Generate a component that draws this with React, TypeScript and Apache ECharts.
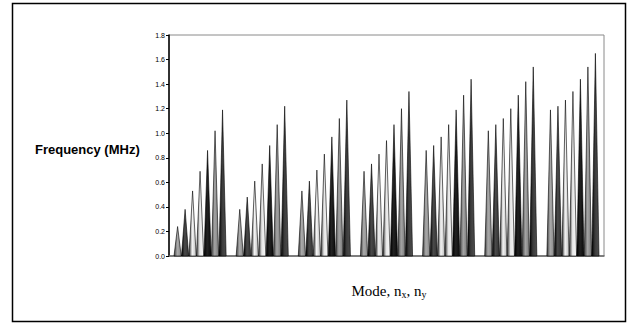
import React, { useEffect, useRef } from "react";
import * as echarts from "echarts";

// Mode groups (n_x = 1..7), each holding n_y = 1..7
const groups = ["1", "2", "3", "4", "5", "6", "7"];
const seriesNames = ["ny=1", "ny=2", "ny=3", "ny=4", "ny=5", "ny=6", "ny=7"];
// frequency (MHz) per group, per n_y
const g1 = [0.24, 0.38, 0.53, 0.69, 0.86, 1.02, 1.19];
const g2 = [0.38, 0.48, 0.61, 0.75, 0.9, 1.07, 1.22];
const g3 = [0.53, 0.61, 0.7, 0.83, 0.97, 1.12, 1.27];
const g4 = [0.69, 0.75, 0.83, 0.94, 1.07, 1.2, 1.34];
const g5 = [0.86, 0.9, 0.97, 1.07, 1.19, 1.31, 1.44];
const g6 = [1.02, 1.07, 1.12, 1.2, 1.31, 1.42, 1.54];
const g7 = [1.19, 1.22, 1.27, 1.34, 1.44, 1.54, 1.65];
const groupValues = [g1, g2, g3, g4, g5, g6, g7];
const yTicks = [0, 0.2, 0.4, 0.6, 0.8, 1.0, 1.2, 1.4, 1.6, 1.8];

const shades = [
  ["#3a3a3a", "#aaaaaa", "#8a8a8a"],
  ["#000000", "#4a4a4a", "#333333"],
  ["#222222", "#f4f4f4", "#bdbdbd"],
  ["#333333", "#e6e6e6", "#f8f8f8"],
  ["#000000", "#222222", "#0a0a0a"],
  ["#444444", "#a4a4a4", "#7a7a7a"],
  ["#000000", "#3c3c3c", "#4e4e4e"],
];

const SPACING = 0.1205;
const HALF = 0.058;

export default function App() {
  const ref = useRef<HTMLDivElement>(null);
  useEffect(() => {
    if (!ref.current) return;
    const chart = echarts.init(ref.current, null, { renderer: "svg" });
    const series: any[] = seriesNames.map((name, s) => ({
      type: "custom",
      name,
      data: groups.map((_, g) => [g + 0.5 + (s - 3) * SPACING, groupValues[g][s]]),
      encode: { x: 0, y: 1 },
      renderItem: (params: any, api: any) => {
        const xc = api.value(0);
        const v = api.value(1);
        const pl = api.coord([xc - HALF, 0]);
        const pr = api.coord([xc + HALF, 0]);
        const pt = api.coord([xc, v]);
        const c = shades[s];
        return {
          type: "polygon",
          shape: { points: [pl, pt, pr] },
          style: {
            fill: new echarts.graphic.LinearGradient(0, 0, 1, 0, [
              { offset: 0, color: c[0] },
              { offset: 0.45, color: c[1] },
              { offset: 1, color: c[2] },
            ]),
            stroke: "rgba(0,0,0,0.75)",
            lineWidth: 0.8,
          },
        };
      },
    }));
    chart.setOption({
      animation: false,
      backgroundColor: "#ffffff",
      grid: { left: 169, right: 34, top: 35, bottom: 69, show: true, borderColor: "#8a8a8a", borderWidth: 1 },
      xAxis: {
        type: "value",
        min: 0,
        max: 7,
        axisLine: { show: true, lineStyle: { color: "#666", width: 1.5 } },
        axisTick: { show: false },
        axisLabel: { show: false },
        splitLine: { show: false },
      },
      yAxis: {
        type: "value",
        min: 0,
        max: 1.8,
        interval: 0.2,
        axisLine: { show: true, lineStyle: { color: "#000", width: 1.5 } },
        axisTick: { show: true, length: 3, lineStyle: { color: "#000" } },
        axisLabel: {
          fontFamily: "Arial, Liberation Sans, sans-serif",
          fontSize: 7,
          color: "#000",
          margin: 4,
          formatter: (v: number) => (yTicks.some((t) => Math.abs(t - v) < 1e-9) ? v.toFixed(1) : ""),
        },
        splitLine: { show: false },
      },
      graphic: [
        {
          type: "rect",
          shape: { x: 12.5, y: 3.5, width: 613, height: 318 },
          style: { fill: "none", stroke: "#000", lineWidth: 1.5 },
          silent: true,
        },
        {
          type: "text",
          x: 35,
          y: 149,
          style: {
            text: "Frequency (MHz)",
            fontFamily: "Arial, Liberation Sans, sans-serif",
            fontWeight: "bold",
            fontSize: 13,
            fill: "#000",
            verticalAlign: "middle",
          },
        },
        {
          type: "text",
          x: 389,
          y: 291,
          style: {
            text: "Mode, n{sub|x}, n{sub|y}",
            fontFamily: "Liberation Serif, Times New Roman, serif",
            fontSize: 15,
            fill: "#000",
            align: "center",
            verticalAlign: "middle",
            rich: {
              sub: {
                fontFamily: "Liberation Serif, Times New Roman, serif",
                fontSize: 10,
                verticalAlign: "bottom",
                padding: [7, 0, 0, 0],
              },
            },
          },
        },
      ],
      series,
    });
    return () => chart.dispose();
  }, []);
  return (
    <div
      ref={ref}
      style={{ position: "absolute", left: 0, top: 0, width: 638, height: 325, background: "#fff" }}
    />
  );
}
